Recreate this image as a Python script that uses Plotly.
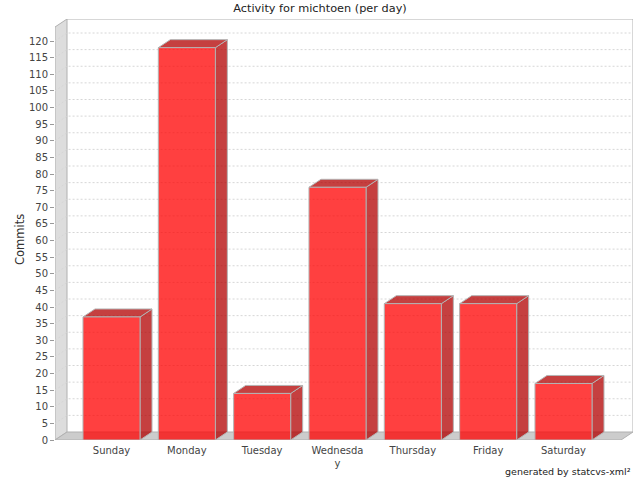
import plotly.graph_objects as go

# ---- data ----
days = ["Sunday", "Monday", "Tuesday", "Wednesday", "Thursday", "Friday", "Saturday"]
day_labels = ["Sunday", "Monday", "Tuesday", "Wednesda<br>y", "Thursday", "Friday", "Saturday"]
commits = [37, 118, 14, 76, 41, 41, 17]
y_ticks = list(range(0, 125, 5))

# ---- geometry / style (pixel-based 3D offsets converted to data units) ----
PX_X = 75.33      # pixels per category
PX_Y = 3.325      # pixels per commit
W, H = 640, 480
ML, MR, MT, MB = 55, 7, 19, 40
plot_w = W - ML - MR
plot_h = H - MT - MB
x0 = -0.75
x1 = x0 + plot_w / PX_X
y0 = 0.0
y1 = plot_h / PX_Y
DX = 12 / PX_X
DY = 8 / PX_Y
BAR_W = 0.757

FRONT = "rgba(255,0,0,0.75)"
SIDE = "rgba(178,0,0,0.75)"
EDGE = "#B4B4B4"
WALL = "#DDDDDD"
FLOOR = "#CCCCCC"
WALL_EDGE = "#B0B0B0"
GRID = "#D6D6D6"
FONT = "DejaVu Sans"

fig = go.Figure()

def poly(xs, ys, fill, line_color, width=1):
    fig.add_trace(go.Scatter(
        x=xs + [xs[0]], y=ys + [ys[0]], mode="lines", fill="toself",
        fillcolor=fill, line=dict(color=line_color, width=width),
        hoverinfo="skip", showlegend=False))

# left wall
poly([x0, x0, x0 + DX, x0 + DX], [y0, y1 - DY, y1, y0 + DY], WALL, WALL_EDGE)
# floor
poly([x0, x0 + DX, x1, x1 - DX], [y0, y0 + DY, y0 + DY, y0], FLOOR, WALL_EDGE)
# back wall outline (top and right edges)
fig.add_trace(go.Scatter(x=[x0 + DX, x1, x1], y=[y1, y1, y0 + DY], mode="lines",
                         line=dict(color=WALL_EDGE, width=1), hoverinfo="skip",
                         showlegend=False))

# grid lines on back wall + diagonal on the left wall
gx, gy = [], []
for t in y_ticks[1:]:
    gx += [x0, x0 + DX, x1, None]
    gy += [t, t + DY, t + DY, None]
fig.add_trace(go.Scatter(x=gx, y=gy, mode="lines",
                         line=dict(color=GRID, width=1, dash="2px,2px"),
                         hoverinfo="skip", showlegend=False))

# 3D bars
for i, v in enumerate(commits):
    xl, xr = i - BAR_W / 2, i + BAR_W / 2
    # side face
    poly([xr, xr + DX, xr + DX, xr], [0, DY, v + DY, v], SIDE, EDGE)
    # top face
    poly([xl, xl + DX, xr + DX, xr], [v, v + DY, v + DY, v], SIDE, EDGE)
    # front face
    poly([xl, xr, xr, xl], [0, 0, v, v], FRONT, EDGE)

fig.update_layout(
    width=W, height=H,
    margin=dict(l=ML, r=MR, t=MT, b=MB, pad=0),
    paper_bgcolor="white", plot_bgcolor="white",
    font=dict(family=FONT, size=10, color="#444444"),
    title=dict(text="Activity for michtoen (per day)", x=0.5, xref="container",
               y=1 - 8 / H, yref="container", yanchor="middle", xanchor="center",
               font=dict(family=FONT, size=11.3, color="#222222")),
    xaxis=dict(range=[x0, x1], tickvals=list(range(len(days))), ticktext=day_labels,
               showgrid=False, zeroline=False, showline=False, ticks="outside",
               ticklen=1, tickcolor="rgba(0,0,0,0)",
               tickfont=dict(size=10, color="#444444")),
    yaxis=dict(range=[y0, y1], tickvals=y_ticks, showgrid=False, zeroline=False,
               showline=False, ticks="outside", ticklen=4, tickcolor="#999999",
               tickfont=dict(size=10, color="#444444")),
    annotations=[
        dict(text="Commits", textangle=-90, xref="paper", yref="paper",
             x=(20 - ML) / plot_w, y=(H - MB - 240) / plot_h, showarrow=False,
             xanchor="center", yanchor="middle",
             font=dict(family=FONT, size=11.5, color="#333333")),
        dict(text="generated by statcvs-xml²", xref="paper", yref="paper",
             x=(633 - ML) / plot_w, y=(H - MB - 471) / plot_h, showarrow=False,
             xanchor="right", yanchor="middle",
             font=dict(family=FONT, size=9.5, color="#222222")),
    ],
)

fig.write_html("out.html", config={"displayModeBar": False},
               post_script="document.body.style.margin='0';")
